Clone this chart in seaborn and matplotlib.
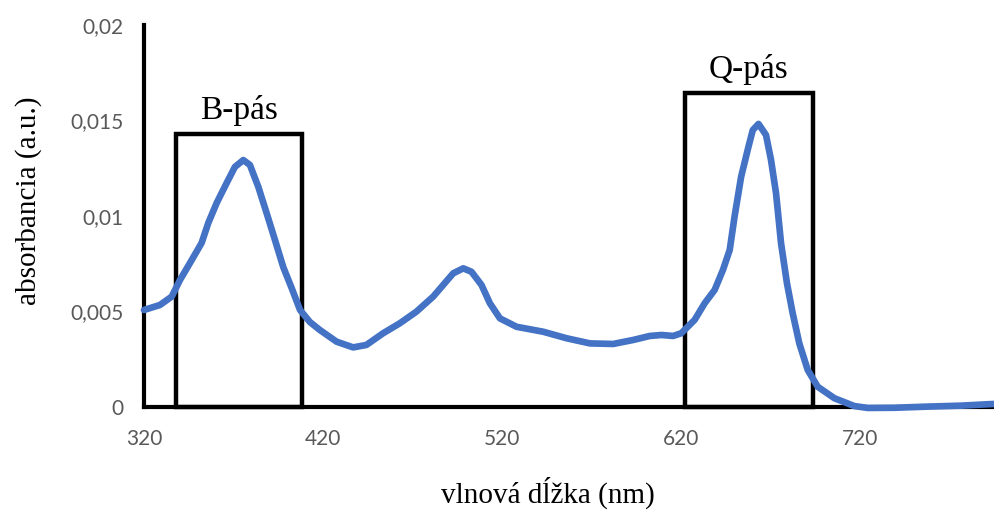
import matplotlib
matplotlib.use("Agg")
import matplotlib.pyplot as plt
from matplotlib.patches import Rectangle
import seaborn as sns
import pandas as pd

# ---- data ----
wavelength = [320.0, 328.9, 335.5, 340.1, 345.7, 352.2, 355.9, 360.6, 366.2, 370.8,
              375.5, 379.2, 383.9, 388.5, 393.2, 397.8, 402.5, 407.2, 412.7, 418.3,
              427.6, 436.9, 444.3, 453.6, 462.9, 472.2, 481.6, 487.2, 492.8, 498.4,
              503.0, 508.6, 513.3, 518.9, 528.2, 543.1, 556.1, 569.2, 582.2, 593.4,
              602.7, 609.1, 615.7, 620.2, 627.7, 633.3, 638.9, 643.5, 647.3, 650.0,
              653.7, 657.8, 660.2, 663.4, 667.6, 670.4, 673.2, 676.0, 679.3, 682.5,
              686.2, 690.9, 696.5, 705.8, 716.9, 724.4, 739.3, 757.9, 776.5, 795.0]
absorbance = [0.00508, 0.00534, 0.00578, 0.00665, 0.00754, 0.00859, 0.00963, 0.01068, 0.01173, 0.01257,
              0.01293, 0.01267, 0.01152, 0.01016, 0.00874, 0.00733, 0.00623, 0.00508, 0.00445, 0.00403,
              0.00342, 0.00312, 0.00325, 0.00386, 0.00438, 0.00499, 0.00578, 0.00639, 0.00700, 0.00726,
              0.00708, 0.00639, 0.00543, 0.00464, 0.00420, 0.00394, 0.00360, 0.00333, 0.00330, 0.00351,
              0.00372, 0.00377, 0.00372, 0.00386, 0.00456, 0.00543, 0.00613, 0.00717, 0.00822, 0.00996,
              0.01206, 0.01363, 0.01450, 0.01482, 0.01424, 0.01293, 0.01119, 0.00857, 0.00648, 0.00491,
              0.00333, 0.00194, 0.00106, 0.00046, 0.00005, -0.00005, -0.00004, 0.00002, 0.00007, 0.00016]

band_labels = ["B-pás", "Q-pás"]
band_start = [338.0, 622.2]
band_end = [408.3, 693.7]
band_top = [0.01429, 0.01644]

x_ticks = [320, 420, 520, 620, 720]
y_ticks = [0, 0.005, 0.01, 0.015, 0.02]
y_tick_labels = ["0", "0,005", "0,01", "0,015", "0,02"]

x_label = "vlnová dĺžka (nm)"
y_label = "absorbancia (a.u.)"

df = pd.DataFrame({"wavelength": wavelength, "absorbance": absorbance})

sns.set_style("white")
plt.rcParams["font.family"] = ["Lato", "DejaVu Sans"]
serif = ["Liberation Serif", "DejaVu Serif"]

fig = plt.figure(figsize=(9.94, 5.11), dpi=100)
ax = fig.add_axes([144 / 994, 104 / 511, 850 / 994, 382 / 511])

sns.lineplot(data=df, x="wavelength", y="absorbance", ax=ax, color="#4472C4",
             linewidth=4.8, zorder=5, clip_on=False)

for lab, x0, x1, top in zip(band_labels, band_start, band_end, band_top):
    ax.add_patch(Rectangle((x0, 0), x1 - x0, top, fill=False, edgecolor="black",
                           linewidth=3.2, zorder=4, clip_on=False))
    ax.text((x0 + x1) / 2, top + 0.0008, lab, ha="center", va="baseline",
            fontsize=24, family=serif, color="black")

ax.set_xlim(320, 795)
ax.set_ylim(0, 0.02)
ax.set_xticks(x_ticks)
ax.set_yticks(y_ticks)
ax.set_yticklabels(y_tick_labels)
ax.tick_params(axis="both", length=0, labelsize=15, labelcolor="#595959")
ax.tick_params(axis="x", pad=16)
ax.tick_params(axis="y", pad=15)

for side in ["top", "right"]:
    ax.spines[side].set_visible(False)
for side in ["left", "bottom"]:
    ax.spines[side].set_color("black")
    ax.spines[side].set_linewidth(3.0)
    ax.spines[side].set_zorder(3)

ax.set_xlabel(x_label, fontsize=21, family=serif, color="black")
ax.set_ylabel(y_label, fontsize=21, family=serif, color="black")
ax.xaxis.set_label_coords(0.475, -0.183)
ax.yaxis.set_label_coords(-0.12, 0.54)

fig.savefig("out.png", dpi=100)
